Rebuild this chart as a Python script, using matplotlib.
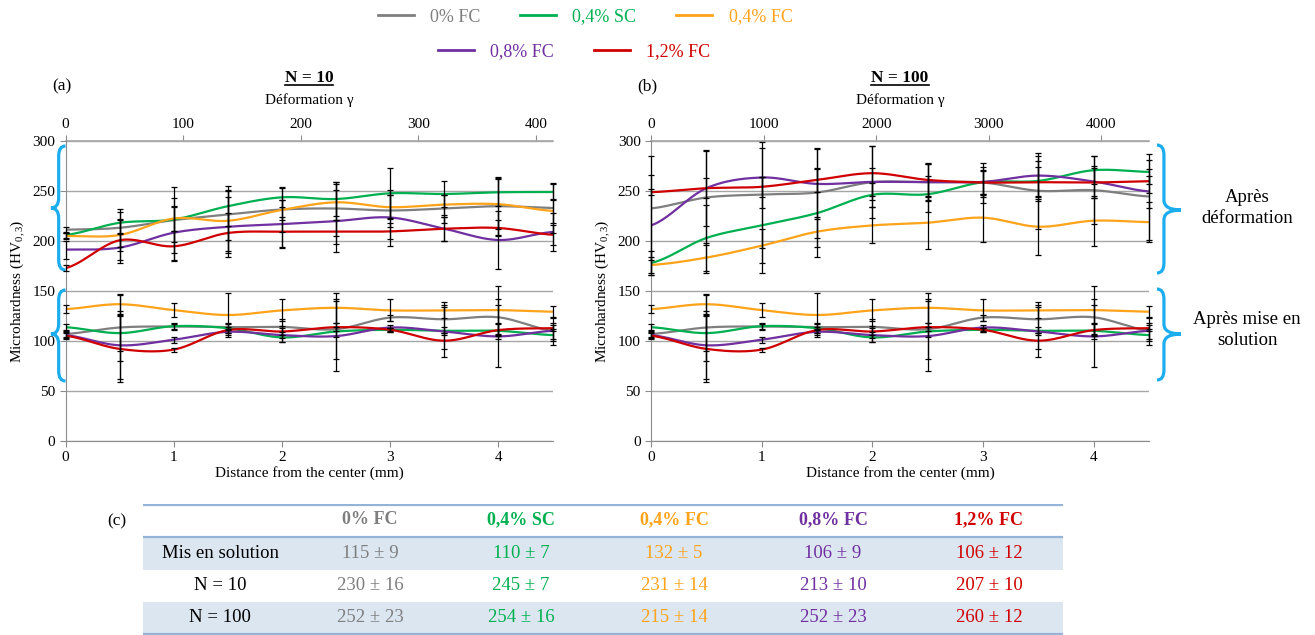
import numpy as np
import matplotlib
matplotlib.use('Agg')
import matplotlib.pyplot as plt
from matplotlib.path import Path
from matplotlib.patches import PathPatch
from matplotlib.transforms import blended_transform_factory

plt.rcParams['font.family'] = ['Liberation Serif', 'DejaVu Serif']
plt.rcParams['mathtext.fontset'] = 'custom'
plt.rcParams['mathtext.rm'] = 'Liberation Serif'
plt.rcParams['mathtext.it'] = 'Liberation Serif:italic'

# data: distance from the center (mm)
dist_mm = [0, 0.5, 1, 1.5, 2, 2.5, 3, 3.5, 4, 4.5]
series = ['0% FC', '0,4% SC', '0,4% FC', '0,8% FC', '1,2% FC']
colors = ['#7F7F7F', '#00B050', '#FFA31A', '#7030A0', '#D00000']

# after solution treatment (same curves in both panels)
hv_sol = [
    [107, 113.5, 114.5, 113.8, 114.1, 111.8, 123.4, 121.7, 123.7, 110.2],
    [113.8, 107.9, 114.8, 112.8, 103.6, 109.5, 111.2, 110.2, 110.2, 105.9],
    [131.9, 136.8, 130.9, 126, 130.6, 133.2, 130.6, 130.6, 130.9, 129.3],
    [105.9, 95.7, 101.3, 109.2, 105.9, 104.9, 113.5, 109.5, 104.6, 110.2],
    [105.3, 92.1, 91.4, 110.9, 109.5, 113.8, 111.2, 100.3, 110.9, 112.8],
]
err_sol = [
    [3, 33, 3, 3, 8, 30, 3, 14, 18, 14],
    [3, 18, 3, 5, 5, 5, 2, 4, 8, 6],
    [4, 10, 7, 22, 11, 15, 11, 8, 24, 6],
    [3, 34, 3, 3, 7, 35, 3, 25, 31, 8],
    [3, 33, 2, 3, 6, 4, 2, 8, 6, 3],
]

# after deformation, N = 10
hv_n10 = [
    [211.3, 213.2, 220.9, 226.5, 231.5, 232.5, 230.5, 232.5, 234.8, 233],
    [206, 218.2, 221.5, 234.8, 243.7, 242, 247.7, 247, 248.7, 249],
    [205, 206, 222.5, 220.2, 231.1, 238.7, 233.8, 236.4, 236.8, 230.1],
    [191.4, 193.4, 208.3, 214.2, 216.9, 219.9, 223.5, 212.3, 201, 209],
    [172.8, 200.7, 194.7, 208, 209.3, 209.3, 209.6, 212.3, 213, 206.3],
]
err_n10 = [
    [3, 19, 22, 25, 22, 27, 16, 14, 29, 25],
    [3, 11, 33, 20, 10, 17, 25, 13, 14, 8],
    [3, 16, 12, 30, 10, 18, 12, 10, 25, 12],
    [9, 15, 27, 30, 24, 31, 28, 12, 29, 19],
    [3, 20, 15, 20, 15, 12, 8, 12, 8, 10],
]

# after deformation, N = 100
hv_n100 = [
    [232.6, 243.5, 246.5, 248.5, 258.8, 258.8, 258.5, 250.2, 250.8, 244.5],
    [178, 203, 215.6, 227.9, 246.2, 246.8, 258.8, 260.1, 270.8, 269.1],
    [176, 183.4, 195.3, 209.3, 215.6, 218.3, 223.3, 214.3, 220.3, 218.9],
    [215.6, 252.8, 263.5, 257.1, 259.1, 258.8, 259.1, 265.4, 259.5, 249.5],
    [248.8, 252.8, 254.2, 261.1, 267.8, 261.1, 258.5, 258.8, 258.5, 259.8],
]
err_n100 = [
    [52, 47, 53, 45, 36, 19, 20, 38, 34, 43],
    [12, 33, 48, 44, 12, 18, 15, 20, 14, 12],
    [8, 15, 17, 15, 18, 26, 24, 28, 25, 20],
    [50, 38, 30, 35, 14, 18, 12, 20, 16, 16],
    [3, 10, 10, 12, 27, 16, 12, 15, 15, 12],
]

# summary table
table_rows = ['Mis en solution', 'N = 10', 'N = 100']
table_mean = [[115, 110, 132, 106, 106],
              [230, 245, 231, 213, 207],
              [252, 254, 215, 252, 260]]
table_sd = [[9, 7, 5, 9, 12],
            [16, 7, 14, 10, 10],
            [23, 16, 14, 23, 12]]

BRACE = '#1CADEF'
GRID = '#A6A6A6'
SPINE = '#8C8C8C'
W, H = 1315, 635


def smooth(x, y, n=24):
    # Catmull-Rom spline, like Excel's smoothed lines
    x = np.asarray(x, float)
    y = np.asarray(y, float)
    px = np.concatenate([[2 * x[0] - x[1]], x, [2 * x[-1] - x[-2]]])
    py = np.concatenate([[y[0]], y, [y[-1]]])
    t = np.linspace(0, 1, n, endpoint=False)
    xs, ys = [], []
    for i in range(1, len(px) - 2):
        for p, out in ((px, xs), (py, ys)):
            p0, p1, p2, p3 = p[i - 1], p[i], p[i + 1], p[i + 2]
            out.append(0.5 * (2 * p1 + (-p0 + p2) * t
                              + (2 * p0 - 5 * p1 + 4 * p2 - p3) * t ** 2
                              + (-p0 + 3 * p1 - 3 * p2 + p3) * t ** 3))
    xs.append([x[-1]])
    ys.append([y[-1]])
    return np.concatenate(xs), np.concatenate(ys)


def brace(ax, x_end, x_mid, x_tip, y0, y1, ym, r):
    verts = [(x_end, y1), (x_mid, y1), (x_mid, y1 - r),
             (x_mid, ym + r), (x_mid, ym), (x_tip, ym),
             (x_mid, ym), (x_mid, ym - r),
             (x_mid, y0 + r), (x_mid, y0), (x_end, y0)]
    codes = [Path.MOVETO, Path.CURVE3, Path.CURVE3,
             Path.LINETO, Path.CURVE3, Path.CURVE3,
             Path.CURVE3, Path.CURVE3,
             Path.LINETO, Path.CURVE3, Path.CURVE3]
    patch = PathPatch(Path(verts, codes), fill=False, ec=BRACE, lw=2.3,
                      transform=ax.get_yaxis_transform(), clip_on=False)
    ax.add_patch(patch)


def draw_panel(ax, hv_def, err_def, k, top_ticks, tag, title):
    for i in range(len(series)):
        for hv in (hv_sol[i], hv_def[i]):
            xs, ys = smooth(dist_mm, hv)
            ax.plot(xs, ys, color=colors[i], lw=1.6, zorder=3)
    for i in range(len(series)):
        for hv, err in ((hv_sol[i], err_sol[i]), (hv_def[i], err_def[i])):
            c = ax.errorbar(dist_mm, hv, yerr=err, fmt='none', ecolor='black',
                            elinewidth=0.9, capsize=2.5, capthick=0.9, zorder=4)
            for a in list(c.lines[1]) + list(c.lines[2]):
                a.set_clip_on(False)

    ax.set_xlim(0, 4.5)
    ax.set_ylim(0, 300)
    ax.set_xticks([0, 1, 2, 3, 4])
    ax.set_yticks(range(0, 301, 50))
    ax.yaxis.grid(True, color=GRID, lw=1)
    ax.set_axisbelow(True)
    for s in ('right', 'top'):
        ax.spines[s].set_visible(False)
    for s in ('left', 'bottom'):
        ax.spines[s].set_color(SPINE)
    ax.tick_params(colors=SPINE, labelcolor='black', labelsize=11, length=4)
    ax.set_xlabel('Distance from the center (mm)', fontsize=11, labelpad=1)
    ax.set_ylabel('Microhardness (HV$_{0,3}$)', fontsize=11, labelpad=4)

    # shear strain on the top axis
    sec = ax.secondary_xaxis('top', functions=(lambda r: r * k, lambda g: g / k))
    sec.set_xticks(top_ticks)
    sec.spines['top'].set_color(GRID)
    sec.spines['top'].set_linewidth(1.2)
    sec.tick_params(colors=SPINE, labelcolor='black', labelsize=11, length=4)

    tr = blended_transform_factory(ax.transAxes, fig.transFigure)
    ax.text(0.5, 1 - 100 / H, 'Déformation γ', transform=tr,
            ha='center', va='center', fontsize=11)
    ax.text(-0.008, 1 - 86 / H, tag, transform=tr,
            ha='center', va='center', fontsize=12.5)
    return ax.text(0.5, 1 - 78 / H, title, transform=tr, fontsize=12.5,
                   fontweight='bold', ha='center', va='center')


fig = plt.figure(figsize=(13.15, 6.35), dpi=100)
ax1 = fig.add_axes([65.5 / W, 1 - 441 / H, 487 / W, 300 / H])
ax2 = fig.add_axes([651 / W, 1 - 441 / H, 498 / W, 300 / H])

titles = [
    draw_panel(ax1, hv_n10, err_n10, 92.0, [0, 100, 200, 300, 400], '(a)', 'N = 10'),
    draw_panel(ax2, hv_n100, err_n100, 983.0, [0, 1000, 2000, 3000, 4000], '(b)', 'N = 100'),
]

# braces
brace(ax1, 0.0, -0.014, -0.03, 171, 295, 233, 10)
brace(ax1, 0.0, -0.014, -0.03, 60, 151, 107, 10)
brace(ax2, 1.016, 1.030, 1.064, 168, 296, 231, 10)
brace(ax2, 1.016, 1.030, 1.064, 61, 152, 107, 10)
ax2.text(1.197, 233, 'Après\ndéformation', transform=ax2.get_yaxis_transform(),
         ha='center', va='center', fontsize=13.5, linespacing=1.35)
ax2.text(1.197, 111, 'Après mise en\nsolution', transform=ax2.get_yaxis_transform(),
         ha='center', va='center', fontsize=13.5, linespacing=1.35)

# legend, two centered rows
handles = [plt.Line2D([], [], color=c, lw=2) for c in colors]
kw = dict(frameon=False, fontsize=13, handlelength=2.0, handletextpad=0.9,
          columnspacing=2.2, labelcolor='linecolor', loc='center')
fig.legend(handles[:3], series[:3], ncol=3, bbox_to_anchor=(585 / W, 1 - 17 / H), **kw)
fig.legend(handles[3:], series[3:], ncol=2, bbox_to_anchor=(574 / W, 1 - 52 / H), **kw)

# table
axt = fig.add_axes([143 / W, 0, 920 / W, 131 / H])
axt.set_xlim(0, 920)
axt.set_ylim(131, 0)
axt.axis('off')
row_y = [49, 82, 114]
col_x = [227, 378, 531, 690, 846]
axt.axhspan(33, 65.5, color='#DCE6F1', lw=0)
axt.axhspan(98, 130, color='#DCE6F1', lw=0)
for y in (0.5, 33, 130):
    axt.axhline(y, color='#95B3D7', lw=1.6)
for j, name in enumerate(series):
    axt.text(col_x[j], 16, name, color=colors[j], fontweight='bold',
             ha='center', va='center', fontsize=13)
for i, row in enumerate(table_rows):
    axt.text(77, row_y[i], row, ha='center', va='center', fontsize=13.5)
    for j in range(len(series)):
        axt.text(col_x[j], row_y[i], f'{table_mean[i][j]} ± {table_sd[i][j]}',
                 color=colors[j], ha='center', va='center', fontsize=13.5)
fig.text(117 / W, 1 - 521 / H, '(c)', ha='center', va='center', fontsize=12.5)

# underline the panel titles
fig.canvas.draw()
inv = fig.transFigure.inverted()
for t in titles:
    bb = t.get_window_extent().transformed(inv)
    fig.add_artist(plt.Line2D([bb.x0, bb.x1], [bb.y0 + 0.002, bb.y0 + 0.002],
                              color='black', lw=1.2, transform=fig.transFigure))

fig.savefig('out.png', dpi=100)
